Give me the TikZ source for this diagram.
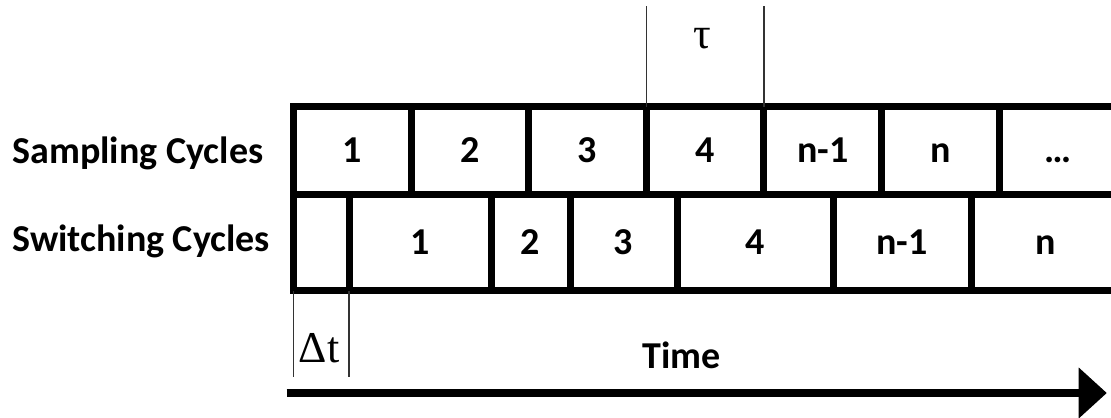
\documentclass[tikz,border=0pt]{standalone}
\usepackage{fontspec}
\setmainfont{Carlito}
\newfontfamily\greekfont{Liberation Serif}
\usetikzlibrary{positioning, arrows.meta}

\begin{document}
\begin{tikzpicture}[
  x=0.5pt, y=-0.5pt,
  lab/.style={font=\fontsize{19}{21}\selectfont\bfseries, inner sep=0pt},
  cell/.style={lab, draw, line width=3.5pt, outer sep=0pt, align=center,
               text height=12pt, text depth=0pt},
  samp/.style={cell, minimum width=58.8pt, minimum height=44pt},
  swit/.style={cell, minimum height=48pt},
  sym/.style={font=\greekfont\fontsize{22}{24}\selectfont, inner sep=0pt},
  guide/.style={line width=0.7pt, black!80},
  timearrow/.style={line width=4pt, -{Triangle[length=14pt, width=25.5pt, line width=0pt]}}
]
\useasboundingbox (0,0) rectangle (1111,417);

% -- Sampling row -------------------------------------------
\node[samp, anchor=north west] (s1) at (293.5,106.5) {1};
\foreach \lab [count=\i from 2] in {2,3,4,n-1,n,\dots}{
  \pgfmathtruncatemacro\prev{\i-1}
  \node[samp, right=0pt of s\prev] (s\i) {\lab};
}

% -- Switching row ------------------------------------------
\node[swit, minimum width=27.75pt, anchor=north west] (w0) at (s1.south west) {};
\node[swit, minimum width=71pt,   right=0pt of w0] (w1) {1};
\node[swit, minimum width=39.5pt, right=0pt of w1] (w2) {2};
\node[swit, minimum width=53.5pt, right=0pt of w2] (w3) {3};
\node[swit, minimum width=78pt,   right=0pt of w3] (w4) {4};
\node[swit, minimum width=69pt,   right=0pt of w4] (w5) {n-1};
\node[swit, minimum width=74.5pt, right=0pt of w5] (w6) {n};

% -- Row labels ---------------------------------------------
\node[lab, anchor=base west] (samplab) at (12,163.3) {Sampling Cycles};
\node[lab, anchor=base west] (switlab) at (12,251.7) {Switching Cycles};

% -- Tau marker ---------------------------------------------
\draw[guide] (s4.north west) -- ++(0,-100);
\draw[guide] (s4.north east) -- ++(0,-100);
\node[sym, anchor=base] (tau) at (702,49) {τ};

% -- Delta t marker -----------------------------------------
\draw[guide] (w0.south west) -- ++(0,86);
\draw[guide] (w0.south east) -- ++(0,86);
\node[sym, anchor=base] (dt) at (319,362.7) {Δt};

% -- Time axis ----------------------------------------------
\coordinate (tstart) at (286.7,393);
\coordinate (tend) at (1106.7,393);
\draw[timearrow] (tstart) -- (tend);
\node[lab, anchor=base] (time) at (681.6,368.3) {Time};

\end{tikzpicture}
\end{document}
